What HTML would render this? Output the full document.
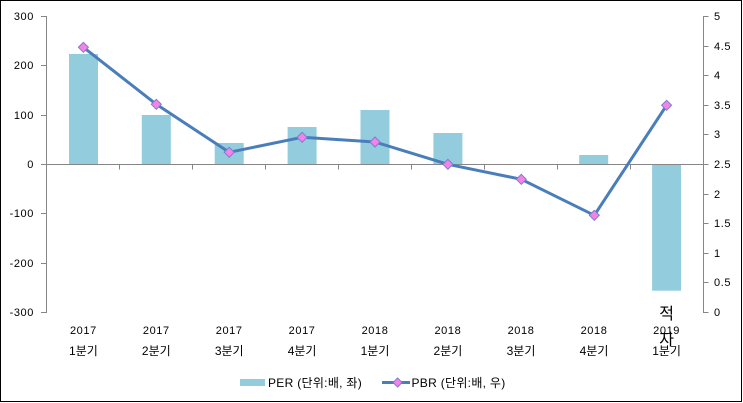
<!DOCTYPE html>
<html><head><meta charset="utf-8"><style>
html,body{margin:0;padding:0;background:#fff;}
svg{display:block;}
text{font-family:"Liberation Sans","Noto Sans CJK KR","NanumGothic",sans-serif;fill:#000;}
</style></head><body>
<svg width="743" height="403" viewBox="0 0 743 403" xmlns="http://www.w3.org/2000/svg">
<rect x="0.5" y="0.5" width="741" height="401" fill="#fff" stroke="#000" stroke-width="1"/>
<!-- bars -->
<g fill="#93CDDD">
<rect x="69" y="54" width="29" height="110.3"/>
<rect x="141.8" y="115" width="29" height="49.3"/>
<rect x="214.7" y="143" width="29" height="21.3"/>
<rect x="287.6" y="127" width="29" height="37.3"/>
<rect x="360.5" y="110" width="29" height="54.3"/>
<rect x="433.4" y="133" width="29" height="31.3"/>
<rect x="579.2" y="155" width="29" height="9.3"/>
<rect x="652.1" y="164.3" width="29" height="126.4"/>
</g>
<!-- axes -->
<g stroke="#868686" stroke-width="1" fill="none">
<line x1="46.5" y1="16" x2="46.5" y2="313"/>
<line x1="703.5" y1="16" x2="703.5" y2="313"/>
<line x1="46.5" y1="164.5" x2="703.5" y2="164.5"/>
<line x1="41" y1="16.5" x2="46.5" y2="16.5"/>
<line x1="41" y1="65.5" x2="46.5" y2="65.5"/>
<line x1="41" y1="115.5" x2="46.5" y2="115.5"/>
<line x1="41" y1="164.5" x2="46.5" y2="164.5"/>
<line x1="41" y1="213.5" x2="46.5" y2="213.5"/>
<line x1="41" y1="263.5" x2="46.5" y2="263.5"/>
<line x1="41" y1="312.5" x2="46.5" y2="312.5"/>
<line x1="703.5" y1="16.5" x2="708.5" y2="16.5"/>
<line x1="703.5" y1="46.5" x2="708.5" y2="46.5"/>
<line x1="703.5" y1="75.5" x2="708.5" y2="75.5"/>
<line x1="703.5" y1="105.5" x2="708.5" y2="105.5"/>
<line x1="703.5" y1="134.5" x2="708.5" y2="134.5"/>
<line x1="703.5" y1="164.5" x2="708.5" y2="164.5"/>
<line x1="703.5" y1="194.5" x2="708.5" y2="194.5"/>
<line x1="703.5" y1="223.5" x2="708.5" y2="223.5"/>
<line x1="703.5" y1="253.5" x2="708.5" y2="253.5"/>
<line x1="703.5" y1="282.5" x2="708.5" y2="282.5"/>
<line x1="703.5" y1="312.5" x2="708.5" y2="312.5"/>
<line x1="119.5" y1="164.5" x2="119.5" y2="169.5"/>
<line x1="192.5" y1="164.5" x2="192.5" y2="169.5"/>
<line x1="265.5" y1="164.5" x2="265.5" y2="169.5"/>
<line x1="338.5" y1="164.5" x2="338.5" y2="169.5"/>
<line x1="411.5" y1="164.5" x2="411.5" y2="169.5"/>
<line x1="484.5" y1="164.5" x2="484.5" y2="169.5"/>
<line x1="557.5" y1="164.5" x2="557.5" y2="169.5"/>
<line x1="630.5" y1="164.5" x2="630.5" y2="169.5"/>
</g>
<!-- PBR line -->
<polyline fill="none" stroke="#4A7EBB" stroke-width="3" stroke-linejoin="round" points="83.4,47.3 156.3,104.3 229.2,152.3 302.1,137.3 375,142 447.9,164.3 521.3,179.3 594.3,215.3 666.6,105.3"/>
<g fill="#F383E6" stroke="#7C7CD0" stroke-width="1">
<path d="M83.4,42.3 l5,5 l-5,5 l-5,-5z"/>
<path d="M156.3,99.3 l5,5 l-5,5 l-5,-5z"/>
<path d="M229.2,147.3 l5,5 l-5,5 l-5,-5z"/>
<path d="M302.1,132.3 l5,5 l-5,5 l-5,-5z"/>
<path d="M375,137 l5,5 l-5,5 l-5,-5z"/>
<path d="M447.9,159.3 l5,5 l-5,5 l-5,-5z"/>
<path d="M521.3,174.3 l5,5 l-5,5 l-5,-5z"/>
<path d="M594.3,210.3 l5,5 l-5,5 l-5,-5z"/>
<path d="M666.6,100.3 l5,5 l-5,5 l-5,-5z"/>
</g>
<!-- left labels -->
<g font-size="11" text-anchor="end" letter-spacing="0.6">
<text x="34" y="20">300</text>
<text x="34" y="69">200</text>
<text x="34" y="119">100</text>
<text x="34" y="168">0</text>
<text x="34" y="217">-100</text>
<text x="34" y="267">-200</text>
<text x="34" y="316">-300</text>
</g>
<!-- right labels -->
<g font-size="11" letter-spacing="0.6">
<text x="714" y="20">5</text>
<text x="714" y="50">4.5</text>
<text x="714" y="79">4</text>
<text x="714" y="109">3.5</text>
<text x="714" y="138">3</text>
<text x="714" y="168">2.5</text>
<text x="714" y="198">2</text>
<text x="714" y="227">1.5</text>
<text x="714" y="257">1</text>
<text x="714" y="286">0.5</text>
<text x="714" y="316">0</text>
</g>
<!-- category labels -->
<g font-size="11" text-anchor="middle" letter-spacing="0.6">
<text x="83.4" y="334">2017</text>
<text x="156.3" y="334">2017</text>
<text x="229.2" y="334">2017</text>
<text x="302.1" y="334">2017</text>
<text x="375" y="334">2018</text>
<text x="447.9" y="334">2018</text>
<text x="521" y="334">2018</text>
<text x="594" y="334">2018</text>
<text x="666.6" y="334">2019</text>
</g>
<g font-size="12" text-anchor="middle">
<text x="83.4" y="355">1분기</text>
<text x="156.3" y="355">2분기</text>
<text x="229.2" y="355">3분기</text>
<text x="302.1" y="355">4분기</text>
<text x="375" y="355">1분기</text>
<text x="447.9" y="355">2분기</text>
<text x="521" y="355">3분기</text>
<text x="594" y="355">4분기</text>
<text x="666.6" y="355">1분기</text>
</g>
<g font-size="16" text-anchor="middle">
<text x="666.6" y="319">적</text>
<text x="666.6" y="345">자</text>
</g>
<!-- legend -->
<rect x="240" y="379" width="25" height="7" fill="#93CDDD"/>
<text x="268" y="387" font-size="12" letter-spacing="0.3">PER (단위:배, 좌)</text>
<line x1="382" y1="382.5" x2="410" y2="382.5" stroke="#4A7EBB" stroke-width="3"/>
<path d="M397.6,378 l4.5,4.5 l-4.5,4.5 l-4.5,-4.5z" fill="#F383E6" stroke="#7C7CD0" stroke-width="1"/>
<text x="411.5" y="387" font-size="12" letter-spacing="0.3">PBR (단위:배, 우)</text>
</svg>
</body></html>
